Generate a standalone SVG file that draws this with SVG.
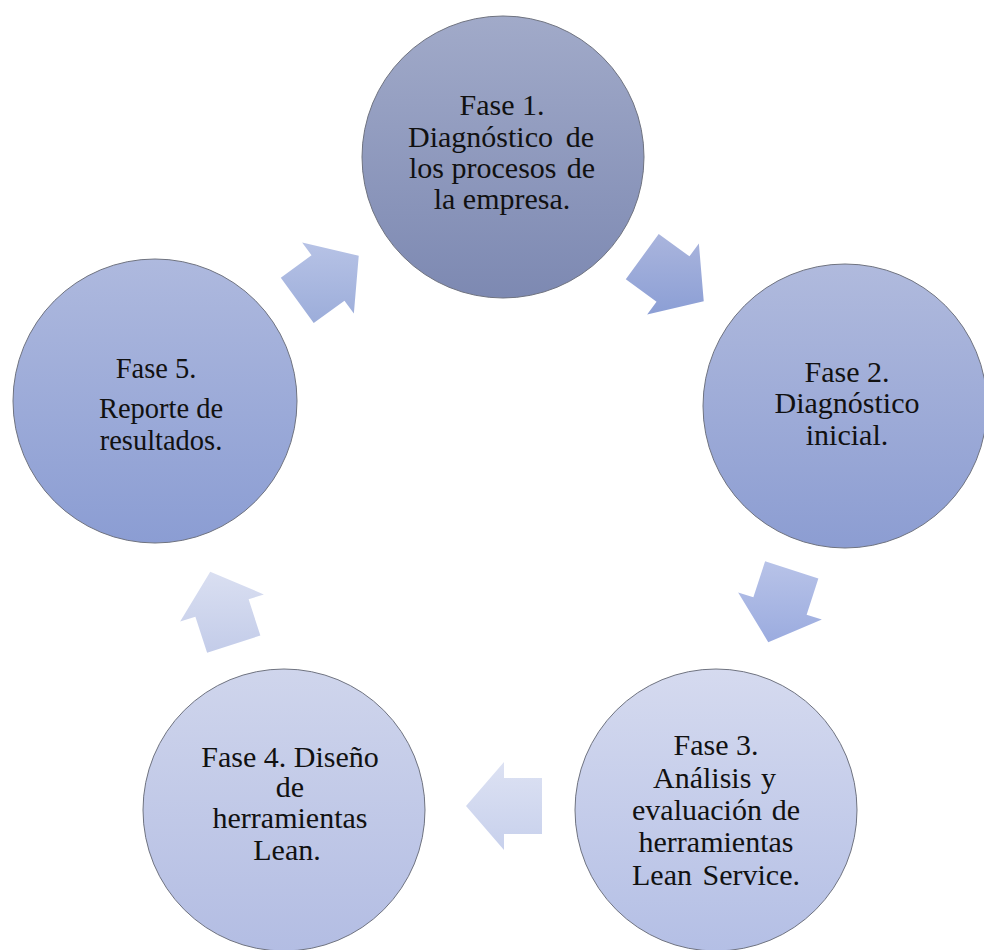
<svg xmlns="http://www.w3.org/2000/svg" width="984" height="950" viewBox="0 0 984 950">
  <style>
    .disc { stroke: #6f7380; stroke-width: 1; }
    .lbl { font-family: "Liberation Serif", "Times New Roman", serif; font-size: 30px; fill: #111; text-anchor: middle; }
    .lbl5 { font-size: 28.5px; }
    .l { text-anchor: start; }
    .r { text-anchor: end; }
  </style>
  <defs>
    <!-- circle fills, top to bottom -->
    <linearGradient id="g1" x1="0" y1="0" x2="0" y2="1">
      <stop offset="0" stop-color="#a1aac9"/>
      <stop offset="1" stop-color="#7d89b2"/>
    </linearGradient>
    <linearGradient id="g2" x1="0" y1="0" x2="0" y2="1">
      <stop offset="0" stop-color="#b0badd"/>
      <stop offset="1" stop-color="#8c9dd2"/>
    </linearGradient>
    <linearGradient id="g3" x1="0" y1="0" x2="0" y2="1">
      <stop offset="0" stop-color="#d5daef"/>
      <stop offset="1" stop-color="#b4bfe5"/>
    </linearGradient>
    <linearGradient id="g4" x1="0" y1="0" x2="0" y2="1">
      <stop offset="0" stop-color="#cfd5ec"/>
      <stop offset="1" stop-color="#b3bde3"/>
    </linearGradient>
    <linearGradient id="g5" x1="0" y1="0" x2="0" y2="1">
      <stop offset="0" stop-color="#aeb9de"/>
      <stop offset="1" stop-color="#8b9dd3"/>
    </linearGradient>
    <!-- arrow fills, kept vertical on screen despite rotation -->
    <linearGradient id="a12" gradientUnits="userSpaceOnUse" x1="0" y1="-45" x2="0" y2="45" gradientTransform="rotate(-36)">
      <stop offset="0" stop-color="#aab5dd"/>
      <stop offset="1" stop-color="#889cd4"/>
    </linearGradient>
    <linearGradient id="a23" gradientUnits="userSpaceOnUse" x1="0" y1="-45" x2="0" y2="45" gradientTransform="rotate(-108)">
      <stop offset="0" stop-color="#b8c3e8"/>
      <stop offset="1" stop-color="#98a9de"/>
    </linearGradient>
    <linearGradient id="a34" gradientUnits="userSpaceOnUse" x1="0" y1="-45" x2="0" y2="45" gradientTransform="rotate(-180)">
      <stop offset="0" stop-color="#dde2f3"/>
      <stop offset="1" stop-color="#c7d0ec"/>
    </linearGradient>
    <linearGradient id="a45" gradientUnits="userSpaceOnUse" x1="0" y1="-45" x2="0" y2="45" gradientTransform="rotate(-252)">
      <stop offset="0" stop-color="#dce1f2"/>
      <stop offset="1" stop-color="#c3cce9"/>
    </linearGradient>
    <linearGradient id="a51" gradientUnits="userSpaceOnUse" x1="0" y1="-45" x2="0" y2="45" gradientTransform="rotate(-324)">
      <stop offset="0" stop-color="#bac5e7"/>
      <stop offset="1" stop-color="#9cadda"/>
    </linearGradient>
    <!-- block arrow pointing along +x, centred on the origin -->
    <polygon id="blk" points="-38,-28 0,-28 0,-44 38,0 0,44 0,28 -38,28"/>
  </defs>

  <rect width="984" height="950" fill="#ffffff"/>

  <g id="connectors">
    <use href="#blk" fill="url(#a12)" transform="translate(673,279) rotate(36)"/>
    <use href="#blk" fill="url(#a23)" transform="translate(780,606) rotate(108)"/>
    <use href="#blk" fill="url(#a34)" transform="translate(504,806) rotate(180)"/>
    <use href="#blk" fill="url(#a45)" transform="translate(222,608) rotate(252)"/>
    <use href="#blk" fill="url(#a51)" transform="translate(328,278) rotate(324)"/>
  </g>

  <g id="fase1">
    <circle class="disc" cx="503" cy="157" r="141" fill="url(#g1)"/>
    <text class="lbl" x="502" y="115">Fase 1.</text>
    <text class="lbl l" x="408" y="147">Diagnóstico</text>
    <text class="lbl r" x="594" y="147">de</text>
    <text class="lbl l" x="409" y="178">los procesos</text>
    <text class="lbl r" x="595" y="178">de</text>
    <text class="lbl" x="502" y="209">la empresa.</text>
  </g>

  <g id="fase2">
    <circle class="disc" cx="845" cy="406" r="142" fill="url(#g2)"/>
    <text class="lbl" x="847" y="382">Fase 2.</text>
    <text class="lbl" x="847" y="413">Diagnóstico</text>
    <text class="lbl" x="847" y="445">inicial.</text>
  </g>

  <g id="fase3">
    <circle class="disc" cx="716" cy="810" r="141" fill="url(#g3)"/>
    <text class="lbl" x="716" y="755">Fase 3.</text>
    <text class="lbl l" x="653" y="788">Análisis</text>
    <text class="lbl r" x="776" y="788">y</text>
    <text class="lbl l" x="632" y="820">evaluación</text>
    <text class="lbl r" x="800" y="820">de</text>
    <text class="lbl" x="716" y="852">herramientas</text>
    <text class="lbl l" x="632" y="885">Lean</text>
    <text class="lbl r" x="800" y="885">Service.</text>
  </g>

  <g id="fase4">
    <circle class="disc" cx="284" cy="810" r="141" fill="url(#g4)"/>
    <text class="lbl" x="290" y="767">Fase 4. Diseño</text>
    <text class="lbl" x="290" y="797">de</text>
    <text class="lbl" x="290" y="828">herramientas</text>
    <text class="lbl" x="287" y="860">Lean.</text>
  </g>

  <g id="fase5">
    <circle class="disc" cx="155" cy="401" r="142" fill="url(#g5)"/>
    <text class="lbl lbl5" x="156" y="378">Fase 5.</text>
    <text class="lbl lbl5" x="161" y="418">Reporte de</text>
    <text class="lbl lbl5" x="161" y="450">resultados.</text>
  </g>
</svg>
